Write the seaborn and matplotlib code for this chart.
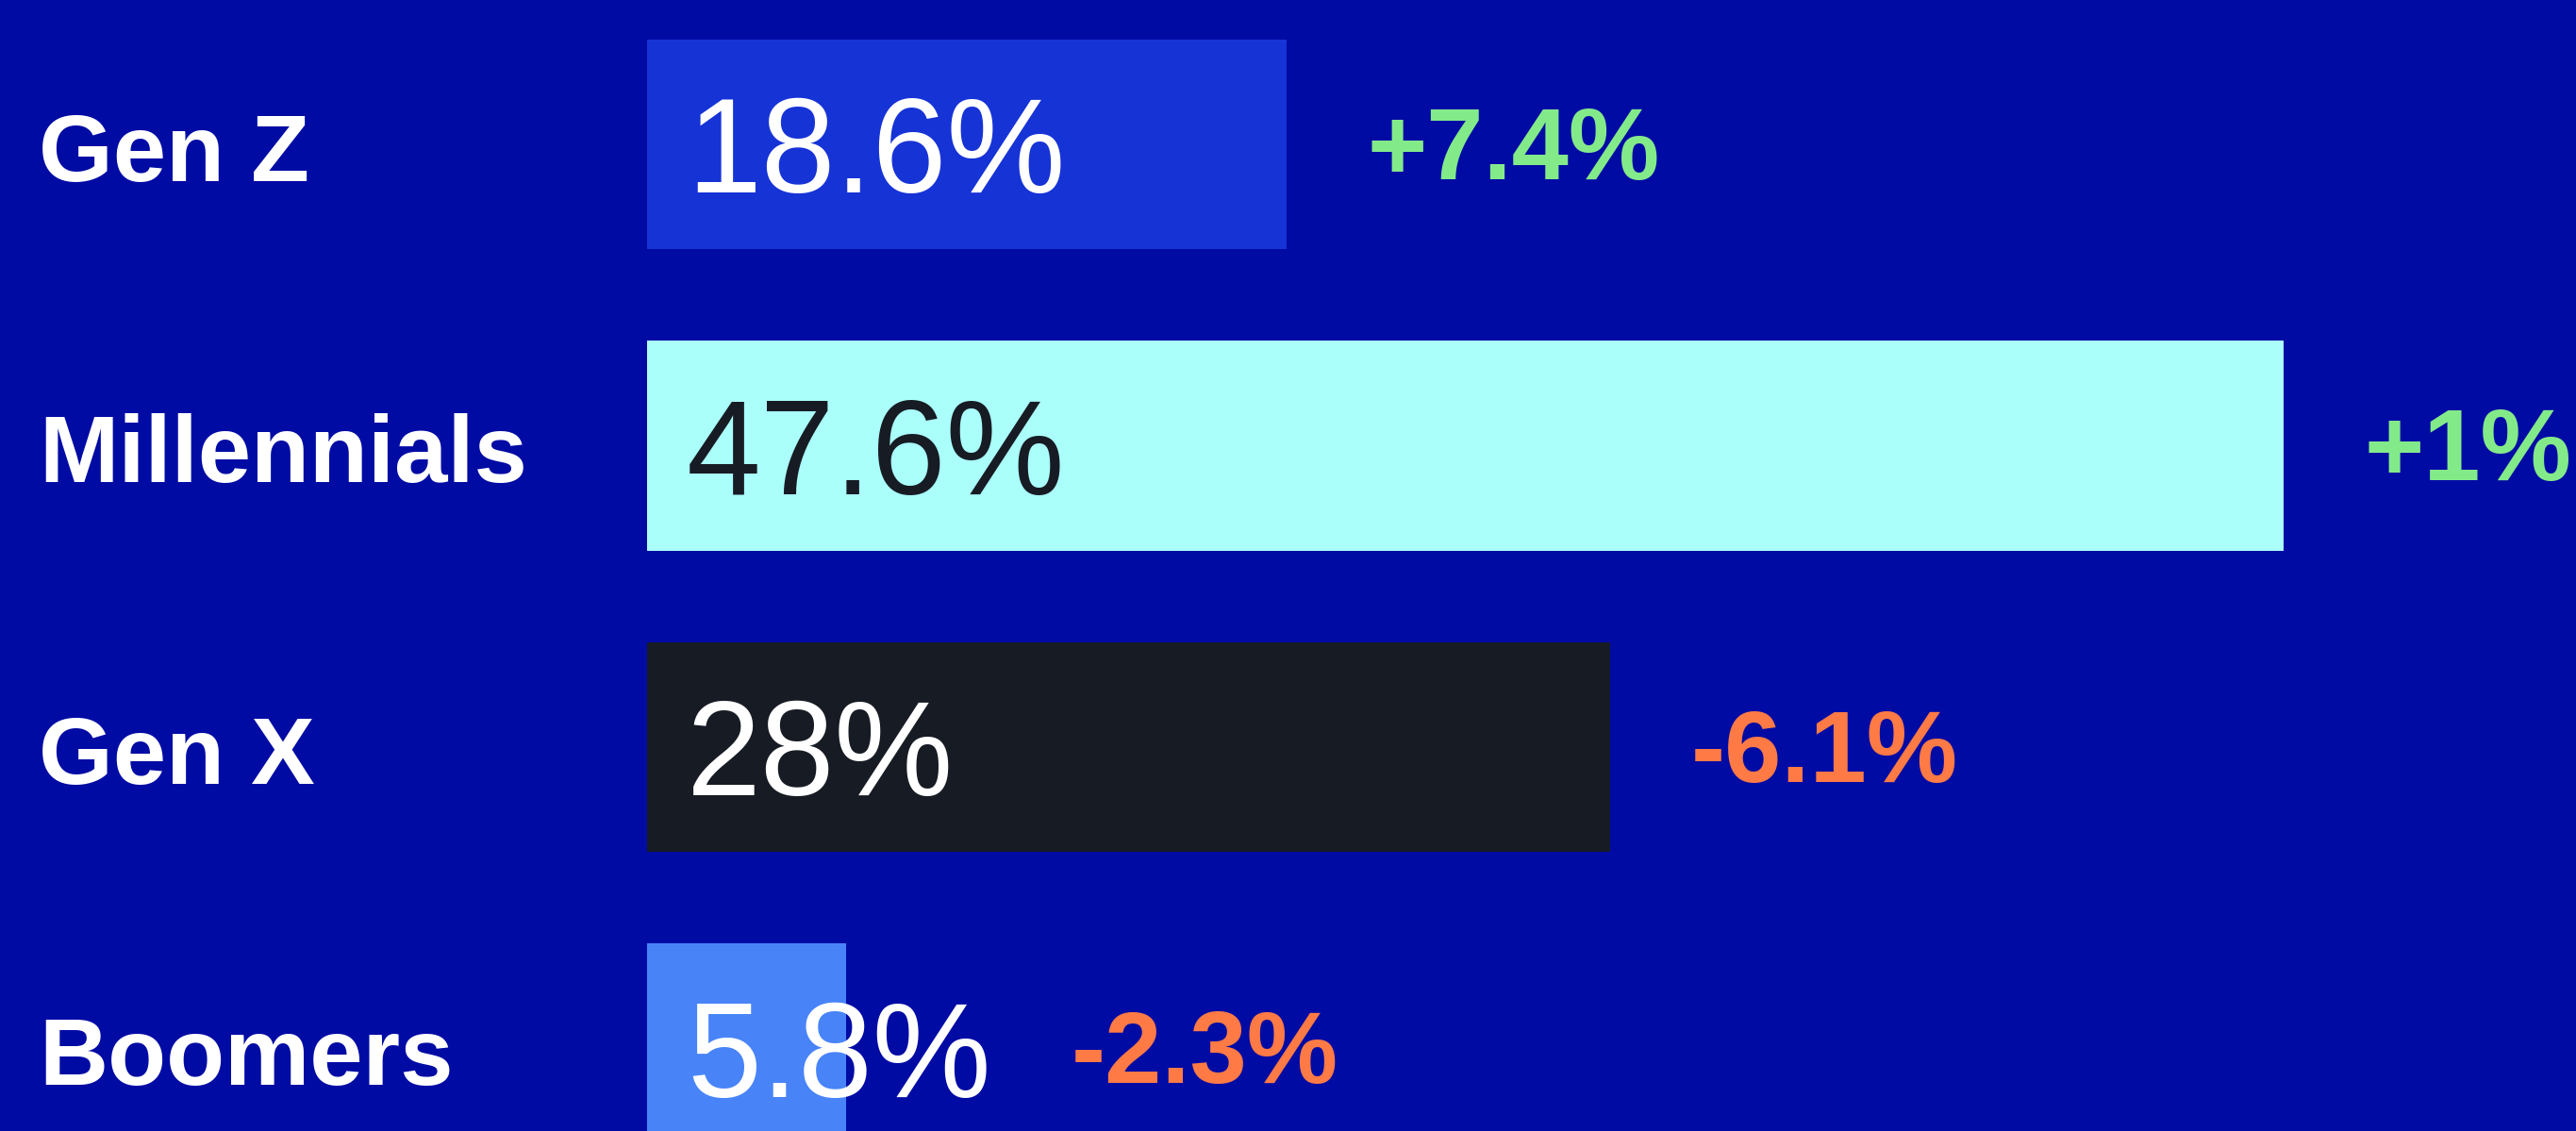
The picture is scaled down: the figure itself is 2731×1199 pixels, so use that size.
import matplotlib
matplotlib.use("Agg")
import matplotlib.pyplot as plt
import seaborn as sns

# data
categories = ["Gen Z", "Millennials", "Gen X", "Boomers"]
shares = [18.6, 47.6, 28.0, 5.8]
share_labels = ["18.6%", "47.6%", "28%", "5.8%"]
changes = ["+7.4%", "+1%", "-6.1%", "-2.3%"]

bar_colors = ["#1633D6", "#AAFFFB", "#171C24", "#4884F8"]
value_colors = ["#FFFFFF", "#171C24", "#FFFFFF", "#FFFFFF"]
change_colors = ["#83EA8A", "#83EA8A", "#FF7A45", "#FF7A45"]
bg = "#000BA4"

sns.set_theme(style="white")
plt.rcParams["font.family"] = ["Liberation Sans", "DejaVu Sans"]

fig = plt.figure(figsize=(27.31, 11.99), dpi=100, facecolor=bg)
ax = fig.add_axes([0, 0, 1, 1])
ax.set_facecolor(bg)

df = {"cat": categories, "share": shares}
sns.barplot(x="share", y="cat", hue="cat", data=df, palette=bar_colors,
            legend=False, width=0.695, orient="h", saturation=1,
            linewidth=0, ax=ax)

ax.set_xlim(-18.82, 56.1)
ax.set_ylim(3.274, -0.479)
ax.axis("off")

fig.canvas.draw()
renderer = fig.canvas.get_renderer()

for i, cat in enumerate(categories):
    # category name on the left
    ax.text(-17.7, i + 0.122, cat, color="white", fontsize=73, fontweight="bold",
            ha="left", va="baseline")
    # value inside the bar
    t = ax.text(1.15, i + 0.16, share_labels[i], color=value_colors[i], fontsize=102,
                ha="left", va="baseline")
    bb = t.get_window_extent(renderer)
    text_end = ax.transData.inverted().transform((bb.x1, 0))[0]
    x_change = max(shares[i], text_end) + 2.35
    ax.text(x_change, i + 0.115, changes[i], color=change_colors[i], fontsize=78,
            fontweight="bold", ha="left", va="baseline")

fig.savefig("out.png", dpi=100, facecolor=bg)
